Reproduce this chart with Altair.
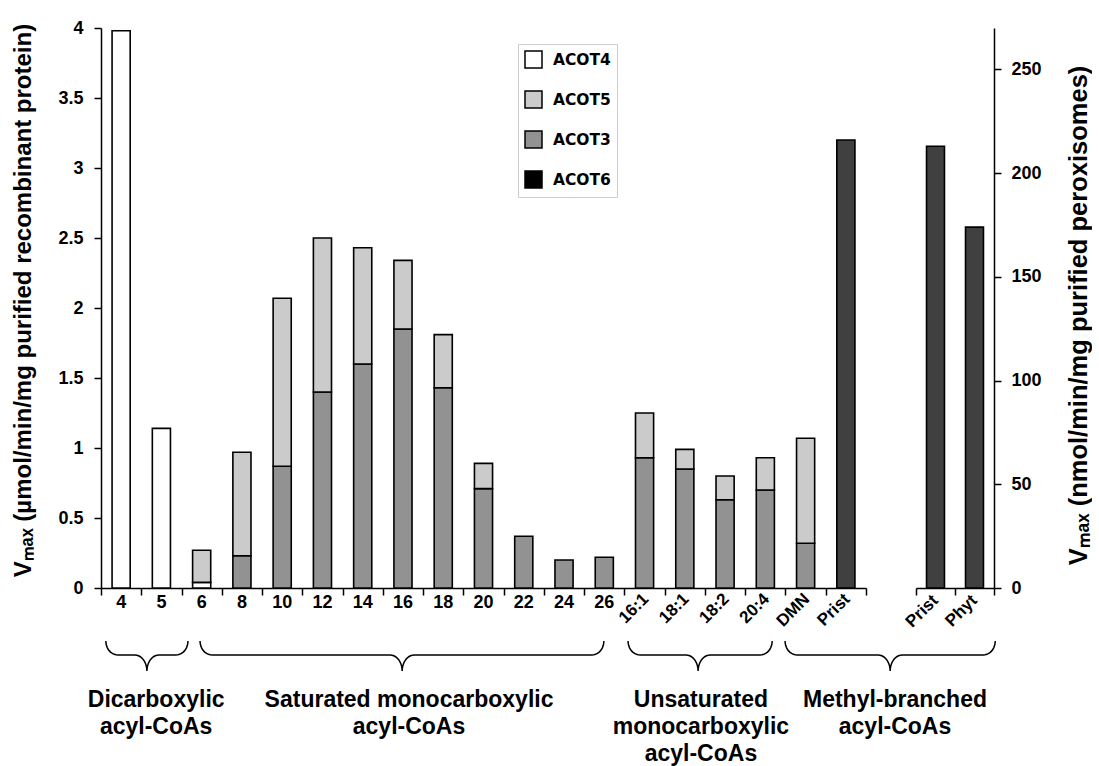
import math
import altair as alt
import pandas as pd

# ---------------- data ----------------
categories = ["4", "5", "6", "8", "10", "12", "14", "16", "18", "20", "22", "24", "26",
              "16:1", "18:1", "18:2", "20:4", "DMN", "Prist"]
acot4 = [3.98, 1.14, 0.04, 0, 0, 0, 0, 0, 0, 0, 0, 0, 0, 0, 0, 0, 0, 0, 0]
acot3 = [0, 0, 0, 0.23, 0.87, 1.40, 1.60, 1.85, 1.43, 0.71, 0.37, 0.20, 0.22,
         0.93, 0.85, 0.63, 0.70, 0.32, 0]
acot5 = [0, 0, 0.23, 0.74, 1.20, 1.10, 0.83, 0.49, 0.38, 0.18, 0, 0, 0,
         0.32, 0.14, 0.17, 0.23, 0.75, 0]
acot6 = [0, 0, 0, 0, 0, 0, 0, 0, 0, 0, 0, 0, 0, 0, 0, 0, 0, 0, 3.20]

perox_categories = ["Prist", "Phyt"]
perox_acot6 = [213, 174]

enzymes = ["ACOT4", "ACOT5", "ACOT3", "ACOT6"]
enzyme_colors = ["#ffffff", "#cbcbcb", "#929292", "#000000"]

straight_labels = categories[:13]
slanted_labels = categories[13:]

groups = [
    dict(a=0.12, b=2.16, t=1.14, cx=1.37, label="Dicarboxylic\nacyl-CoAs"),
    dict(a=2.46, b=12.49, t=7.48, cx=7.65, label="Saturated monocarboxylic\nacyl-CoAs"),
    dict(a=13.09, b=16.67, t=14.83, cx=14.9, label="Unsaturated\nmonocarboxylic\nacyl-CoAs"),
    dict(a=16.99, b=22.21, t=19.6, cx=19.72, label="Methyl-branched\nacyl-CoAs"),
]

# ---------------- tables ----------------
rows = []
for i, c in enumerate(categories):
    for enz, arr, o in [("ACOT4", acot4, 0), ("ACOT3", acot3, 1),
                        ("ACOT5", acot5, 2), ("ACOT6", acot6, 3)]:
        if arr[i] > 0:
            rows.append(dict(cat=c, enzyme=enz, v=arr[i], ord=o))
left_df = pd.DataFrame(rows)
right_df = pd.DataFrame(dict(cat=perox_categories, enzyme="ACOT6", v=perox_acot6, ord=3))

RX = 0.30
Y_TOP, Y_MID, Y_TIP = -53, -67, -83
brace_rows = []
for g_i, g in enumerate(groups):
    a, b, t = g["a"], g["b"], g["t"]
    pts = []
    n = 10
    for k in range(n + 1):
        th = math.pi / 2 * k / n
        pts.append((a + RX - RX * math.cos(th), Y_TOP + (Y_MID - Y_TOP) * math.sin(th)))
    for k in range(n + 1):
        th = math.pi / 2 * k / n
        pts.append((t - RX + RX * math.sin(th), Y_TIP + (Y_MID - Y_TIP) * math.cos(th)))
    for k in range(n + 1):
        th = math.pi / 2 * k / n
        pts.append((t + RX - RX * math.cos(th), Y_TIP + (Y_MID - Y_TIP) * math.sin(th)))
    for k in range(n + 1):
        th = math.pi / 2 * k / n
        pts.append((b - RX + RX * math.sin(th), Y_TOP + (Y_MID - Y_TOP) * math.cos(th)))
    for j, (x, y) in enumerate(pts):
        brace_rows.append(dict(g=g_i, i=j, bx=x, by=y))
brace_df = pd.DataFrame(brace_rows)
glabel_df = pd.DataFrame([dict(bx=g["cx"], by=-101, label=g["label"]) for g in groups])

AXFONT = "Liberation Sans"
fill_enc = alt.Fill("enzyme:N", scale=alt.Scale(domain=enzymes, range=enzyme_colors),
                    legend=alt.Legend(title=None, orient="none", legendX=417, legendY=16,
                                      symbolType="square", symbolSize=289,
                                      symbolStrokeColor="black", symbolStrokeWidth=1.5,
                                      labelFont="DejaVu Sans", labelFontSize=15.5,
                                      labelFontWeight="bold", labelColor="black",
                                      labelOffset=10, rowPadding=17, padding=6,
                                      strokeColor="#cccccc", fillColor="white"))
fop = alt.condition("datum.enzyme === 'ACOT6'", alt.value(0.75), alt.value(1))

# ---------------- left panel ----------------
x_left = alt.X("cat:N", sort=categories,
               scale=alt.Scale(domain=categories, paddingInner=0, paddingOuter=0),
               axis=alt.Axis(labels=False, title=None, tickBand="extent", tickSize=7,
                             tickColor="black", domainColor="black", tickWidth=1.5,
                             domainWidth=1.5, grid=False))
bars_left = alt.Chart(left_df).mark_bar(stroke="black", strokeWidth=1.6,
                                        width=alt.RelativeBandSize(0.45)).encode(
    x=x_left,
    y=alt.Y("v:Q", stack="zero",
            scale=alt.Scale(domain=[0, 4], nice=False),
            axis=alt.Axis(values=[0, 0.5, 1, 1.5, 2, 2.5, 3, 3.5, 4], labelExpr="'' + datum.value",
                          grid=False, tickSize=7, tickColor="black", domainColor="black",
                          tickWidth=1.5, domainWidth=1.5, labelFont=AXFONT, labelFontSize=18,
                          labelFontWeight="bold", labelColor="black", labelPadding=11,
                          title="Vₘₐₓ (µmol/min/mg purified recombinant protein)",
                          titleFont=AXFONT, titleFontSize=24, titleFontWeight="bold",
                          titleColor="black", titleX=-78, titleY=272, titleAngle=270,
                          titleAlign="center", titleBaseline="middle")),
    fill=fill_enc,
    fillOpacity=fop,
    order=alt.Order("ord:Q"),
)

lab_straight = alt.Chart(pd.DataFrame(dict(cat=straight_labels))).mark_text(
    font=AXFONT, fontSize=18, fontWeight="bold", color="black", baseline="middle"
).encode(x=alt.X("cat:N", sort=categories), y=alt.value(575), text="cat:N")

lab_slant = alt.Chart(pd.DataFrame(dict(cat=slanted_labels))).mark_text(
    font=AXFONT, fontSize=17, fontWeight="bold", color="black", baseline="middle",
    align="right", angle=315, dx=2
).encode(x=alt.X("cat:N", sort=categories), y=alt.value(570), text="cat:N")

braces = alt.Chart(brace_df).mark_line(color="black", strokeWidth=1.5).encode(
    x=alt.X("bx:Q", scale=alt.Scale(domain=[0, 19], nice=False, zero=False), axis=None),
    y=alt.Y("by:Q", scale=alt.Scale(domain=[0, 560], nice=False), axis=None),
    detail="g:N", order="i:Q")

glabels = alt.Chart(glabel_df).mark_text(
    font=AXFONT, fontSize=23, fontWeight="bold", color="black", align="center",
    baseline="top", lineBreak="\n", lineHeight=27
).encode(
    x=alt.X("bx:Q", scale=alt.Scale(domain=[0, 19], nice=False, zero=False), axis=None),
    y=alt.Y("by:Q", scale=alt.Scale(domain=[0, 560], nice=False), axis=None),
    text="label:N")

left = alt.layer(
    alt.layer(bars_left, lab_straight, lab_slant),
    alt.layer(braces, glabels),
).resolve_scale(x="independent", y="independent").properties(width=765, height=560)

# ---------------- right panel ----------------
x_right = alt.X("cat:N", sort=perox_categories,
                scale=alt.Scale(domain=perox_categories, paddingInner=0, paddingOuter=0),
                axis=alt.Axis(labels=False, title=None, tickBand="extent", tickSize=7,
                              tickColor="black", domainColor="black", tickWidth=1.5,
                              domainWidth=1.5, grid=False))
bars_right = alt.Chart(right_df).mark_bar(stroke="black", strokeWidth=1.6,
                                          width=alt.RelativeBandSize(0.46)).encode(
    x=x_right,
    y=alt.Y("v:Q", scale=alt.Scale(domain=[0, 270], nice=False),
            axis=alt.Axis(orient="right", values=[0, 50, 100, 150, 200, 250],
                          grid=False, tickSize=7, tickColor="black", domainColor="black",
                          tickWidth=1.5, domainWidth=1.5, labelFont=AXFONT, labelFontSize=18,
                          labelFontWeight="bold", labelColor="black", labelPadding=10,
                          title="Vₘₐₓ (nmol/min/mg purified peroxisomes)",
                          titleFont=AXFONT, titleFontSize=25.5, titleFontWeight="bold",
                          titleColor="black", titleX=84, titleY=287, titleAngle=270,
                          titleAlign="center", titleBaseline="middle")),
    fill=fill_enc,
    fillOpacity=fop,
)
lab_right = alt.Chart(pd.DataFrame(dict(cat=perox_categories))).mark_text(
    font=AXFONT, fontSize=17, fontWeight="bold", color="black", baseline="middle",
    align="right", angle=315, dx=0
).encode(x=alt.X("cat:N", sort=perox_categories), y=alt.value(570), text="cat:N")

right = alt.layer(bars_right, lab_right).properties(width=78, height=560)

chart = alt.hconcat(left, right, spacing=50, bounds="flush").properties(
    autosize=alt.AutoSizeParams(type="pad"),
    padding={"left": 10, "top": 19, "right": 0, "bottom": 0},
).configure_view(stroke=None).configure_concat(spacing=50)

chart.save("out.html", embed_options={"renderer": "svg", "actions": False})
